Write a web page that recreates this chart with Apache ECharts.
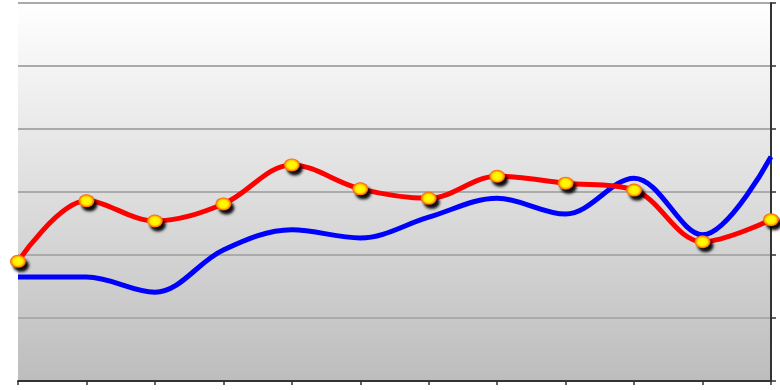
<!DOCTYPE html>
<html><head><meta charset="utf-8">
<script src="https://cdn.jsdelivr.net/npm/echarts@6/dist/echarts.min.js"></script>
<style>html,body{margin:0;padding:0;background:#fff}#c{width:780px;height:390px}</style>
</head><body><div id="c"></div>
<script>
var categories = ['1','2','3','4','5','6','7','8','9','10','11','12'];
var redValues = [1.90, 2.86, 2.54, 2.81, 3.43, 3.05, 2.90, 3.25, 3.14, 3.03, 2.21, 2.56];
var blueValues = [1.65, 1.65, 1.41, 2.08, 2.40, 2.27, 2.60, 2.90, 2.65, 3.22, 2.32, 3.56];

var chart = echarts.init(document.getElementById('c'));
chart.setOption({
  animation: false,
  grid: {
    left: 18, right: 9, top: 3, bottom: 9, show: true, borderWidth: 0,
    backgroundColor: new echarts.graphic.LinearGradient(0, 0, 0, 1, [
      {offset: 0, color: '#ffffff'},
      {offset: 1, color: '#bdbdbd'}
    ])
  },
  xAxis: {
    type: 'category', data: categories, boundaryGap: false,
    axisLine: {lineStyle: {color: '#333', width: 2}},
    axisTick: {show: true, length: 4, lineStyle: {color: '#333', width: 1.5}},
    axisLabel: {show: false},
    splitLine: {show: false}
  },
  yAxis: {
    type: 'value', position: 'right', min: 0, max: 6, interval: 1,
    axisLine: {show: true, lineStyle: {color: '#333', width: 2}},
    axisTick: {show: true, length: 5, lineStyle: {color: '#333', width: 1.5}},
    axisLabel: {show: false},
    splitLine: {lineStyle: {color: '#aaaaaa', width: 2}}
  },
  series: [
    {
      type: 'line', data: blueValues, smooth: 0.35, showSymbol: false,
      lineStyle: {color: '#0000ff', width: 5}, z: 2
    },
    {
      type: 'line', data: redValues, smooth: 0.35, symbol: 'circle', symbolSize: [16, 13],
      lineStyle: {color: '#ff0000', width: 5},
      itemStyle: {
        color: new echarts.graphic.RadialGradient(0.5, 0.5, 0.5, [
          {offset: 0, color: '#ffff00'},
          {offset: 0.6, color: '#ffee00'},
          {offset: 1, color: '#ff5000'}
        ]),
        borderWidth: 0,
        shadowColor: 'rgba(0,0,0,0.95)', shadowBlur: 3, shadowOffsetX: 3, shadowOffsetY: 4},
      z: 3
    }
  ]
});
</script>
</body></html>
